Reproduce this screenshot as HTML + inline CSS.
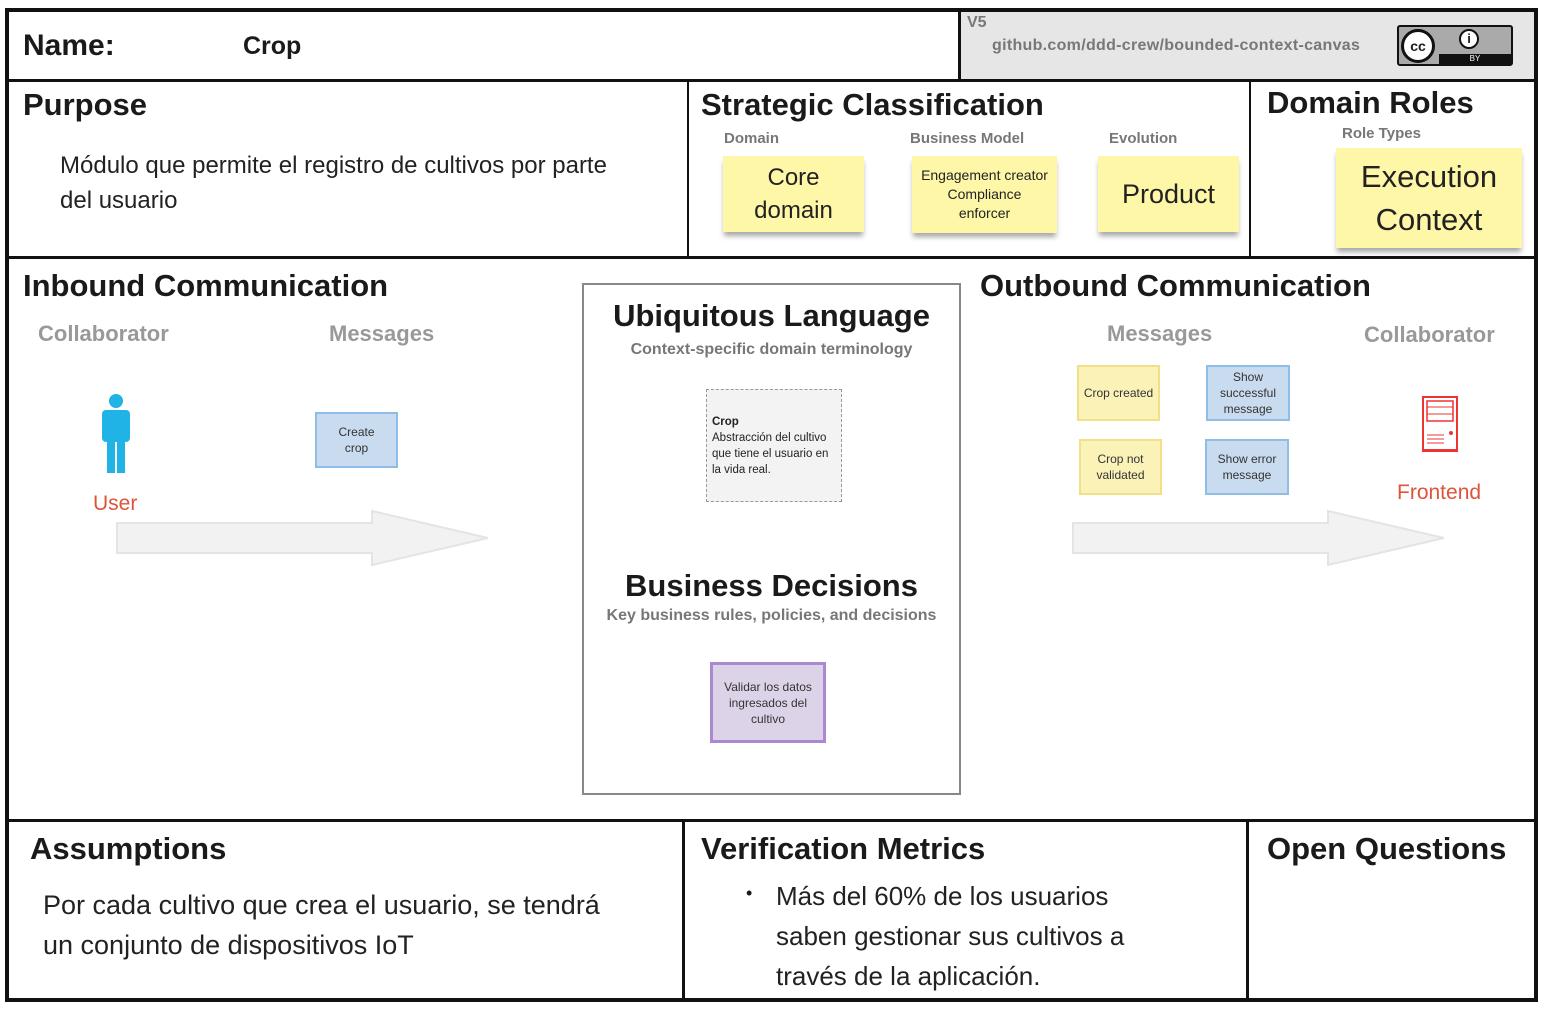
<!DOCTYPE html>
<html><head><meta charset="utf-8"><style>
*{margin:0;padding:0;box-sizing:border-box}
body{width:1548px;height:1009px;background:#fff;position:relative;overflow:hidden;font-family:"Liberation Sans","DejaVu Sans",sans-serif;color:#1a1a1a}
.a{position:absolute}
.ln{position:absolute;background:#111}
.h{position:absolute;font-weight:bold;font-size:31px;white-space:nowrap;color:#1a1a1a}
.sub{position:absolute;font-weight:bold;color:#777;white-space:nowrap}
.st{position:absolute;background:#fff7a8;box-shadow:0 5px 5px -1px rgba(0,0,0,.35);display:flex;align-items:center;justify-content:center;text-align:center;color:#222}
.msg{position:absolute;display:flex;align-items:center;justify-content:center;text-align:center;font-size:12px;line-height:16px;color:#333}
.y{background:#fbf2b8;border:2px solid #f3df88}
.b{background:#c9dbee;border:2px solid #8fbde6}
.t{position:absolute;white-space:nowrap}
</style></head><body>
<div class="a" style="left:960px;top:10px;width:576px;height:70px;background:#e6e6e6"></div>
<div class="a" style="left:5px;top:8px;width:1533px;height:994px;border:4px solid #111"></div>
<div class="ln" style="left:5px;top:79px;width:1533px;height:3px"></div>
<div class="ln" style="left:958px;top:8px;width:3px;height:73px"></div>
<div class="ln" style="left:5px;top:256px;width:1533px;height:3px"></div>
<div class="ln" style="left:5px;top:819px;width:1533px;height:3px"></div>
<div class="ln" style="left:687px;top:80px;width:2px;height:178px"></div>
<div class="ln" style="left:1249px;top:80px;width:2px;height:178px"></div>
<div class="ln" style="left:682px;top:820px;width:3px;height:182px"></div>
<div class="ln" style="left:1246px;top:820px;width:3px;height:182px"></div>

<div class="h" style="left:23px;top:29px;font-size:30px">Name:</div>
<div class="h" style="left:243px;top:32px;font-size:25px">Crop</div>
<div class="sub" style="left:967px;top:14px;font-size:16px">V5</div>
<div class="sub" style="left:992px;top:37px;font-size:16px;letter-spacing:0.3px">github.com/ddd-crew/bounded-context-canvas</div>
<div class="a" style="left:1397px;top:25px;width:116px;height:41px;background:#aaa;border:2px solid #111;border-radius:3px">
 <div class="a" style="left:2px;top:2px;width:34px;height:34px;border-radius:50%;background:#fff;border:3px solid #111;font-weight:bold;font-size:14px;text-align:center;line-height:28px">cc</div>
 <div class="a" style="left:60px;top:2px;width:20px;height:20px;border-radius:50%;background:#fff;border:2px solid #111;font-weight:bold;font-size:13px;text-align:center;line-height:16px">i</div>
 <div class="a" style="left:40px;top:27px;width:72px;height:10px;background:#111;color:#fff;font-size:8px;text-align:center;line-height:10px">BY</div>
</div>

<div class="h" style="left:23px;top:87px">Purpose</div>
<div class="t" style="left:60px;top:148px;font-size:24px;line-height:35px;white-space:normal;width:580px;color:#222">Módulo que permite el registro de cultivos por parte del usuario</div>

<div class="h" style="left:701px;top:87px">Strategic Classification</div>
<div class="sub" style="left:724px;top:130px;font-size:15px">Domain</div>
<div class="sub" style="left:910px;top:130px;font-size:15px">Business Model</div>
<div class="sub" style="left:1109px;top:130px;font-size:15px">Evolution</div>
<div class="st" style="left:723px;top:156px;width:141px;height:76px;font-size:24px;line-height:33px">Core<br>domain</div>
<div class="st" style="left:912px;top:156px;width:145px;height:77px;font-size:14px;line-height:19px">Engagement creator<br>Compliance<br>enforcer</div>
<div class="st" style="left:1098px;top:156px;width:141px;height:76px;font-size:27px">Product</div>

<div class="h" style="left:1267px;top:85px">Domain Roles</div>
<div class="sub" style="left:1342px;top:125px;font-size:15px">Role Types</div>
<div class="st" style="left:1336px;top:148px;width:186px;height:100px;font-size:31px;line-height:43px">Execution<br>Context</div>

<div class="h" style="left:23px;top:268px">Inbound Communication</div>
<div class="sub" style="left:38px;top:321px;font-size:22px;color:#999">Collaborator</div>
<div class="sub" style="left:329px;top:321px;font-size:22px;color:#999">Messages</div>
<svg class="a" style="left:98px;top:392px" width="36" height="84" viewBox="0 0 36 84">
 <circle cx="18" cy="9" r="7" fill="#1fb3e6"/>
 <rect x="4" y="18" width="28" height="32" rx="4" fill="#1fb3e6"/>
 <rect x="9" y="45" width="8" height="36" fill="#1fb3e6"/><rect x="19" y="45" width="8" height="36" fill="#1fb3e6"/>
</svg>
<div class="t" style="left:93px;top:492px;font-size:21px;color:#e0533b">User</div>
<div class="msg b" style="left:315px;top:412px;width:83px;height:56px">Create<br>crop</div>
<svg class="a" style="left:110px;top:505px" width="390" height="65"><polygon points="7,18 262,18 262,6 378,33 262,60 262,48 7,48" fill="#f2f2f2" stroke="#e4e4e4" stroke-width="2"/></svg>

<div class="a" style="left:582px;top:283px;width:379px;height:512px;border:2px solid #888"></div>
<div class="h" style="left:582px;top:298px;width:379px;text-align:center">Ubiquitous Language</div>
<div class="sub" style="left:582px;top:341px;width:379px;text-align:center;font-size:16px">Context-specific domain terminology</div>
<div class="a" style="left:706px;top:389px;width:136px;height:113px;background:#f3f3f3;border:1px dashed #999;padding:24px 6px 0 5px;font-size:11.5px;line-height:16px;color:#222"><b>Crop</b><br>Abstracción del cultivo que tiene el usuario en la vida real.</div>
<div class="h" style="left:582px;top:568px;width:379px;text-align:center">Business Decisions</div>
<div class="sub" style="left:582px;top:607px;width:379px;text-align:center;font-size:16px">Key business rules, policies, and decisions</div>
<div class="msg" style="left:710px;top:662px;width:116px;height:81px;background:#ddd3e8;border:3px solid #a98ad0">Validar los datos<br>ingresados del<br>cultivo</div>

<div class="h" style="left:980px;top:268px">Outbound Communication</div>
<div class="sub" style="left:1107px;top:321px;font-size:22px;color:#999">Messages</div>
<div class="sub" style="left:1364px;top:322px;font-size:22px;color:#999">Collaborator</div>
<div class="msg y" style="left:1077px;top:365px;width:83px;height:56px">Crop created</div>
<div class="msg b" style="left:1206px;top:365px;width:84px;height:56px">Show<br>successful<br>message</div>
<div class="msg y" style="left:1079px;top:439px;width:83px;height:56px">Crop not<br>validated</div>
<div class="msg b" style="left:1205px;top:439px;width:84px;height:56px">Show error<br>message</div>
<svg class="a" style="left:1420px;top:395px" width="40" height="60">
 <rect x="3" y="2" width="34" height="54" fill="#fff" stroke="#e33" stroke-width="2"/>
 <rect x="7" y="6" width="26" height="20" fill="none" stroke="#e33" stroke-width="1.5"/>
 <line x1="7" y1="12" x2="33" y2="12" stroke="#e33"/><line x1="7" y1="19" x2="33" y2="19" stroke="#e33"/>
 <circle cx="31" cy="38" r="2" fill="#e33"/>
 <line x1="7" y1="40" x2="24" y2="40" stroke="#e33"/><line x1="7" y1="44" x2="24" y2="44" stroke="#e33"/><line x1="7" y1="48" x2="24" y2="48" stroke="#e33"/>
 <rect x="3" y="54" width="34" height="3" fill="#e33"/>
</svg>
<div class="t" style="left:1397px;top:481px;font-size:21px;color:#e0533b">Frontend</div>
<svg class="a" style="left:1066px;top:505px" width="390" height="65"><polygon points="7,18 262,18 262,6 378,33 262,60 262,48 7,48" fill="#f2f2f2" stroke="#e4e4e4" stroke-width="2"/></svg>

<div class="h" style="left:30px;top:831px">Assumptions</div>
<div class="t" style="left:43px;top:885px;font-size:27px;line-height:40px;white-space:normal;width:585px;color:#222">Por cada cultivo que crea el usuario, se tendrá un conjunto de dispositivos IoT</div>
<div class="h" style="left:701px;top:831px">Verification Metrics</div>
<div class="t" style="left:746px;top:883px;font-size:18px">•</div>
<div class="t" style="left:776px;top:876px;font-size:26px;line-height:40px;white-space:normal;width:385px;color:#222">Más del 60% de los usuarios saben gestionar sus cultivos a través de la aplicación.</div>
<div class="h" style="left:1267px;top:831px">Open Questions</div>
</body></html>
